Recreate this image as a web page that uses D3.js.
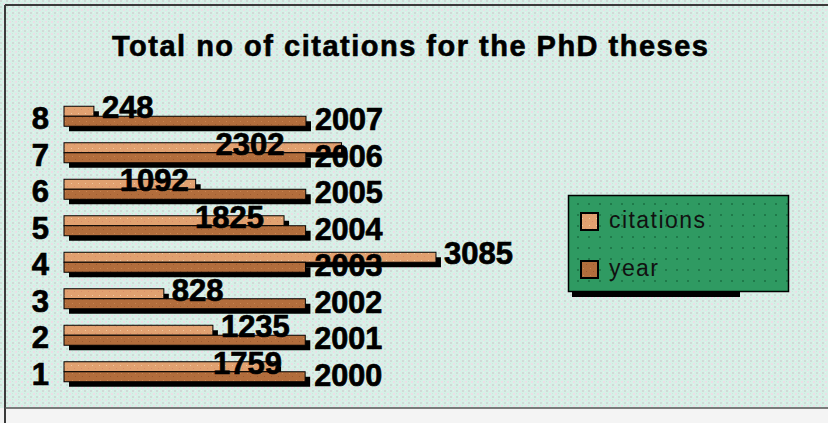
<!DOCTYPE html>
<html lang="en">
<head>
<meta charset="utf-8">
<title>Total no of citations for the PhD theses</title>
<script src="https://cdn.jsdelivr.net/npm/d3@7"></script>
<style>
  html, body { margin: 0; padding: 0; background: #f4f4f4; }
  svg { display: block; }
</style>
</head>
<body>
<script>
// data
var categories = ["1", "2", "3", "4", "5", "6", "7", "8"];
var citations = [1759, 1235, 828, 3085, 1825, 1092, 2302, 248];
var years = [2000, 2001, 2002, 2003, 2004, 2005, 2006, 2007];
var seriesNames = ["citations", "year"];

var w = 828, h = 423;
var svg = d3.select("body").append("svg").attr("width", w).attr("height", h);
var defs = svg.append("defs");

// dithered backgrounds, like the old excel fill
function dotPattern(id, size, base, dots) {
  var p = defs.append("pattern").attr("id", id)
    .attr("width", size).attr("height", size)
    .attr("patternUnits", "userSpaceOnUse");
  p.append("rect").attr("width", size).attr("height", size).attr("fill", base);
  dots.forEach(function(d) {
    p.append("rect").attr("x", d[0]).attr("y", d[1])
      .attr("width", d[2]).attr("height", d[2]).attr("fill", d[3]);
  });
}
dotPattern("bg", 6, "#d7f0e7", [[0,0,2,"#d2d9d7"],[3,3,2,"#ecdde6"],[3,0,1,"#e6f1ed"],[0,3,1,"#cbe8dc"]]);
dotPattern("green", 11, "#2f9a62", [[5,5,2,"#1f7a4a"]]);
dotPattern("cit", 7, "#e1a170", [[1,1,1,"#f2c79f"],[4,4,1,"#d98a6a"]]);
dotPattern("yr", 7, "#b26d3c", [[2,2,1,"#c98552"],[5,5,1,"#9c5a30"]]);

// background areas
svg.append("rect").attr("width", w).attr("height", 408).attr("fill", "url(#bg)");
svg.append("rect").attr("x", 5).attr("y", 408).attr("width", w).attr("height", 15).attr("fill", "#f4f4f4");
svg.append("line").attr("x1", 5).attr("y1", 5).attr("x2", w).attr("y2", 5).attr("stroke", "#3a3a3a").attr("stroke-width", 2);
svg.append("line").attr("x1", 5).attr("y1", 5).attr("x2", 5).attr("y2", h).attr("stroke", "#3a3a3a").attr("stroke-width", 2);
svg.append("line").attr("x1", 5).attr("y1", 408).attr("x2", w).attr("y2", 408).attr("stroke", "#555").attr("stroke-width", 1.5);

var numFont = "'Liberation Sans', Arial, sans-serif";

// title
svg.append("text")
  .attr("x", 112).attr("y", 56)
  .attr("textLength", 596).attr("lengthAdjust", "spacing")
  .style("font-family", numFont)
  .style("font-weight", "bold").style("font-size", "29px")
  .attr("stroke", "#000").attr("stroke-width", 0.6)
  .text("Total no of citations for the PhD theses");

// scales
var xScale = d3.scaleLinear().domain([0, 3500]).range([64, 486]);
var yScale = d3.scaleBand().domain(categories.slice().reverse()).range([98, 390]);
var barH = 10, shadow = 5;

var rows = categories.map(function(c, i) {
  return { cat: c, citations: citations[i], year: years[i] };
});
function mid(d) { return yScale(d.cat) + yScale.bandwidth() / 2; }

// shadows first
var g = svg.append("g");
g.selectAll(".cshadow").data(rows).enter().append("rect")
  .attr("x", xScale(0) + shadow).attr("y", function(d) { return mid(d) - barH + shadow; })
  .attr("width", function(d) { return xScale(d.citations) - xScale(0); })
  .attr("height", barH).attr("fill", "#000");
g.selectAll(".yshadow").data(rows).enter().append("rect")
  .attr("x", xScale(0) + shadow).attr("y", function(d) { return mid(d) + shadow; })
  .attr("width", function(d) { return xScale(d.year) - xScale(0); })
  .attr("height", barH).attr("fill", "#000");

// bars
g.selectAll(".cbar").data(rows).enter().append("rect")
  .attr("x", xScale(0)).attr("y", function(d) { return mid(d) - barH; })
  .attr("width", function(d) { return xScale(d.citations) - xScale(0); })
  .attr("height", barH).attr("fill", "url(#cit)").attr("stroke", "#000").attr("stroke-width", 1);
g.selectAll(".ybar").data(rows).enter().append("rect")
  .attr("x", xScale(0)).attr("y", function(d) { return mid(d); })
  .attr("width", function(d) { return xScale(d.year) - xScale(0); })
  .attr("height", barH).attr("fill", "url(#yr)").attr("stroke", "#000").attr("stroke-width", 1);

function bigText(sel) {
  sel.style("font-family", numFont).style("font-weight", "bold").style("font-size", "31px")
    .attr("stroke", "#000").attr("stroke-width", 0.7);
}

// category labels
svg.selectAll(".cat").data(rows).enter().append("text")
  .attr("x", 49).attr("y", function(d) { return mid(d) + 13; })
  .attr("text-anchor", "end")
  .call(bigText)
  .text(function(d) { return d.cat; });

// year labels
svg.selectAll(".ylab").data(rows).enter().append("text")
  .attr("x", function(d) { return xScale(d.year) + 9; })
  .attr("y", function(d) { return mid(d) + 14; })
  .attr("textLength", 68).attr("lengthAdjust", "spacingAndGlyphs")
  .call(bigText)
  .text(function(d) { return d.year; });

// citation labels (some were dragged left in the original)
var labelDx = [-71, 0, 0, 0, -97, -84, -134, 0];
svg.selectAll(".clab").data(rows).enter().append("text")
  .attr("x", function(d, i) { return xScale(d.citations) + 8 + labelDx[i]; })
  .attr("y", function(d) { return mid(d) + 2; })
  .call(bigText)
  .text(function(d) { return d.citations; });

// legend
var lg = svg.append("g");
lg.append("rect").attr("x", 572).attr("y", 291).attr("width", 168).attr("height", 6).attr("fill", "#000");
lg.append("rect").attr("x", 568.5).attr("y", 195.5).attr("width", 220).attr("height", 96)
  .attr("fill", "url(#green)").attr("stroke", "#000").attr("stroke-width", 1.5);
var keyFill = ["url(#cit)", "url(#yr)"];
var keyY = [213, 261];
seriesNames.forEach(function(name, i) {
  lg.append("rect").attr("x", 581).attr("y", keyY[i]).attr("width", 17).attr("height", 17)
    .attr("fill", keyFill[i]).attr("stroke", "#000").attr("stroke-width", 2);
  lg.append("text").attr("x", 609).attr("y", keyY[i] + 15)
    .attr("textLength", name == "citations" ? 96 : 49).attr("lengthAdjust", "spacing")
    .style("font-family", numFont).style("font-size", "23px")
    .attr("fill", "#111")
    .text(name);
});
</script>
</body>
</html>
